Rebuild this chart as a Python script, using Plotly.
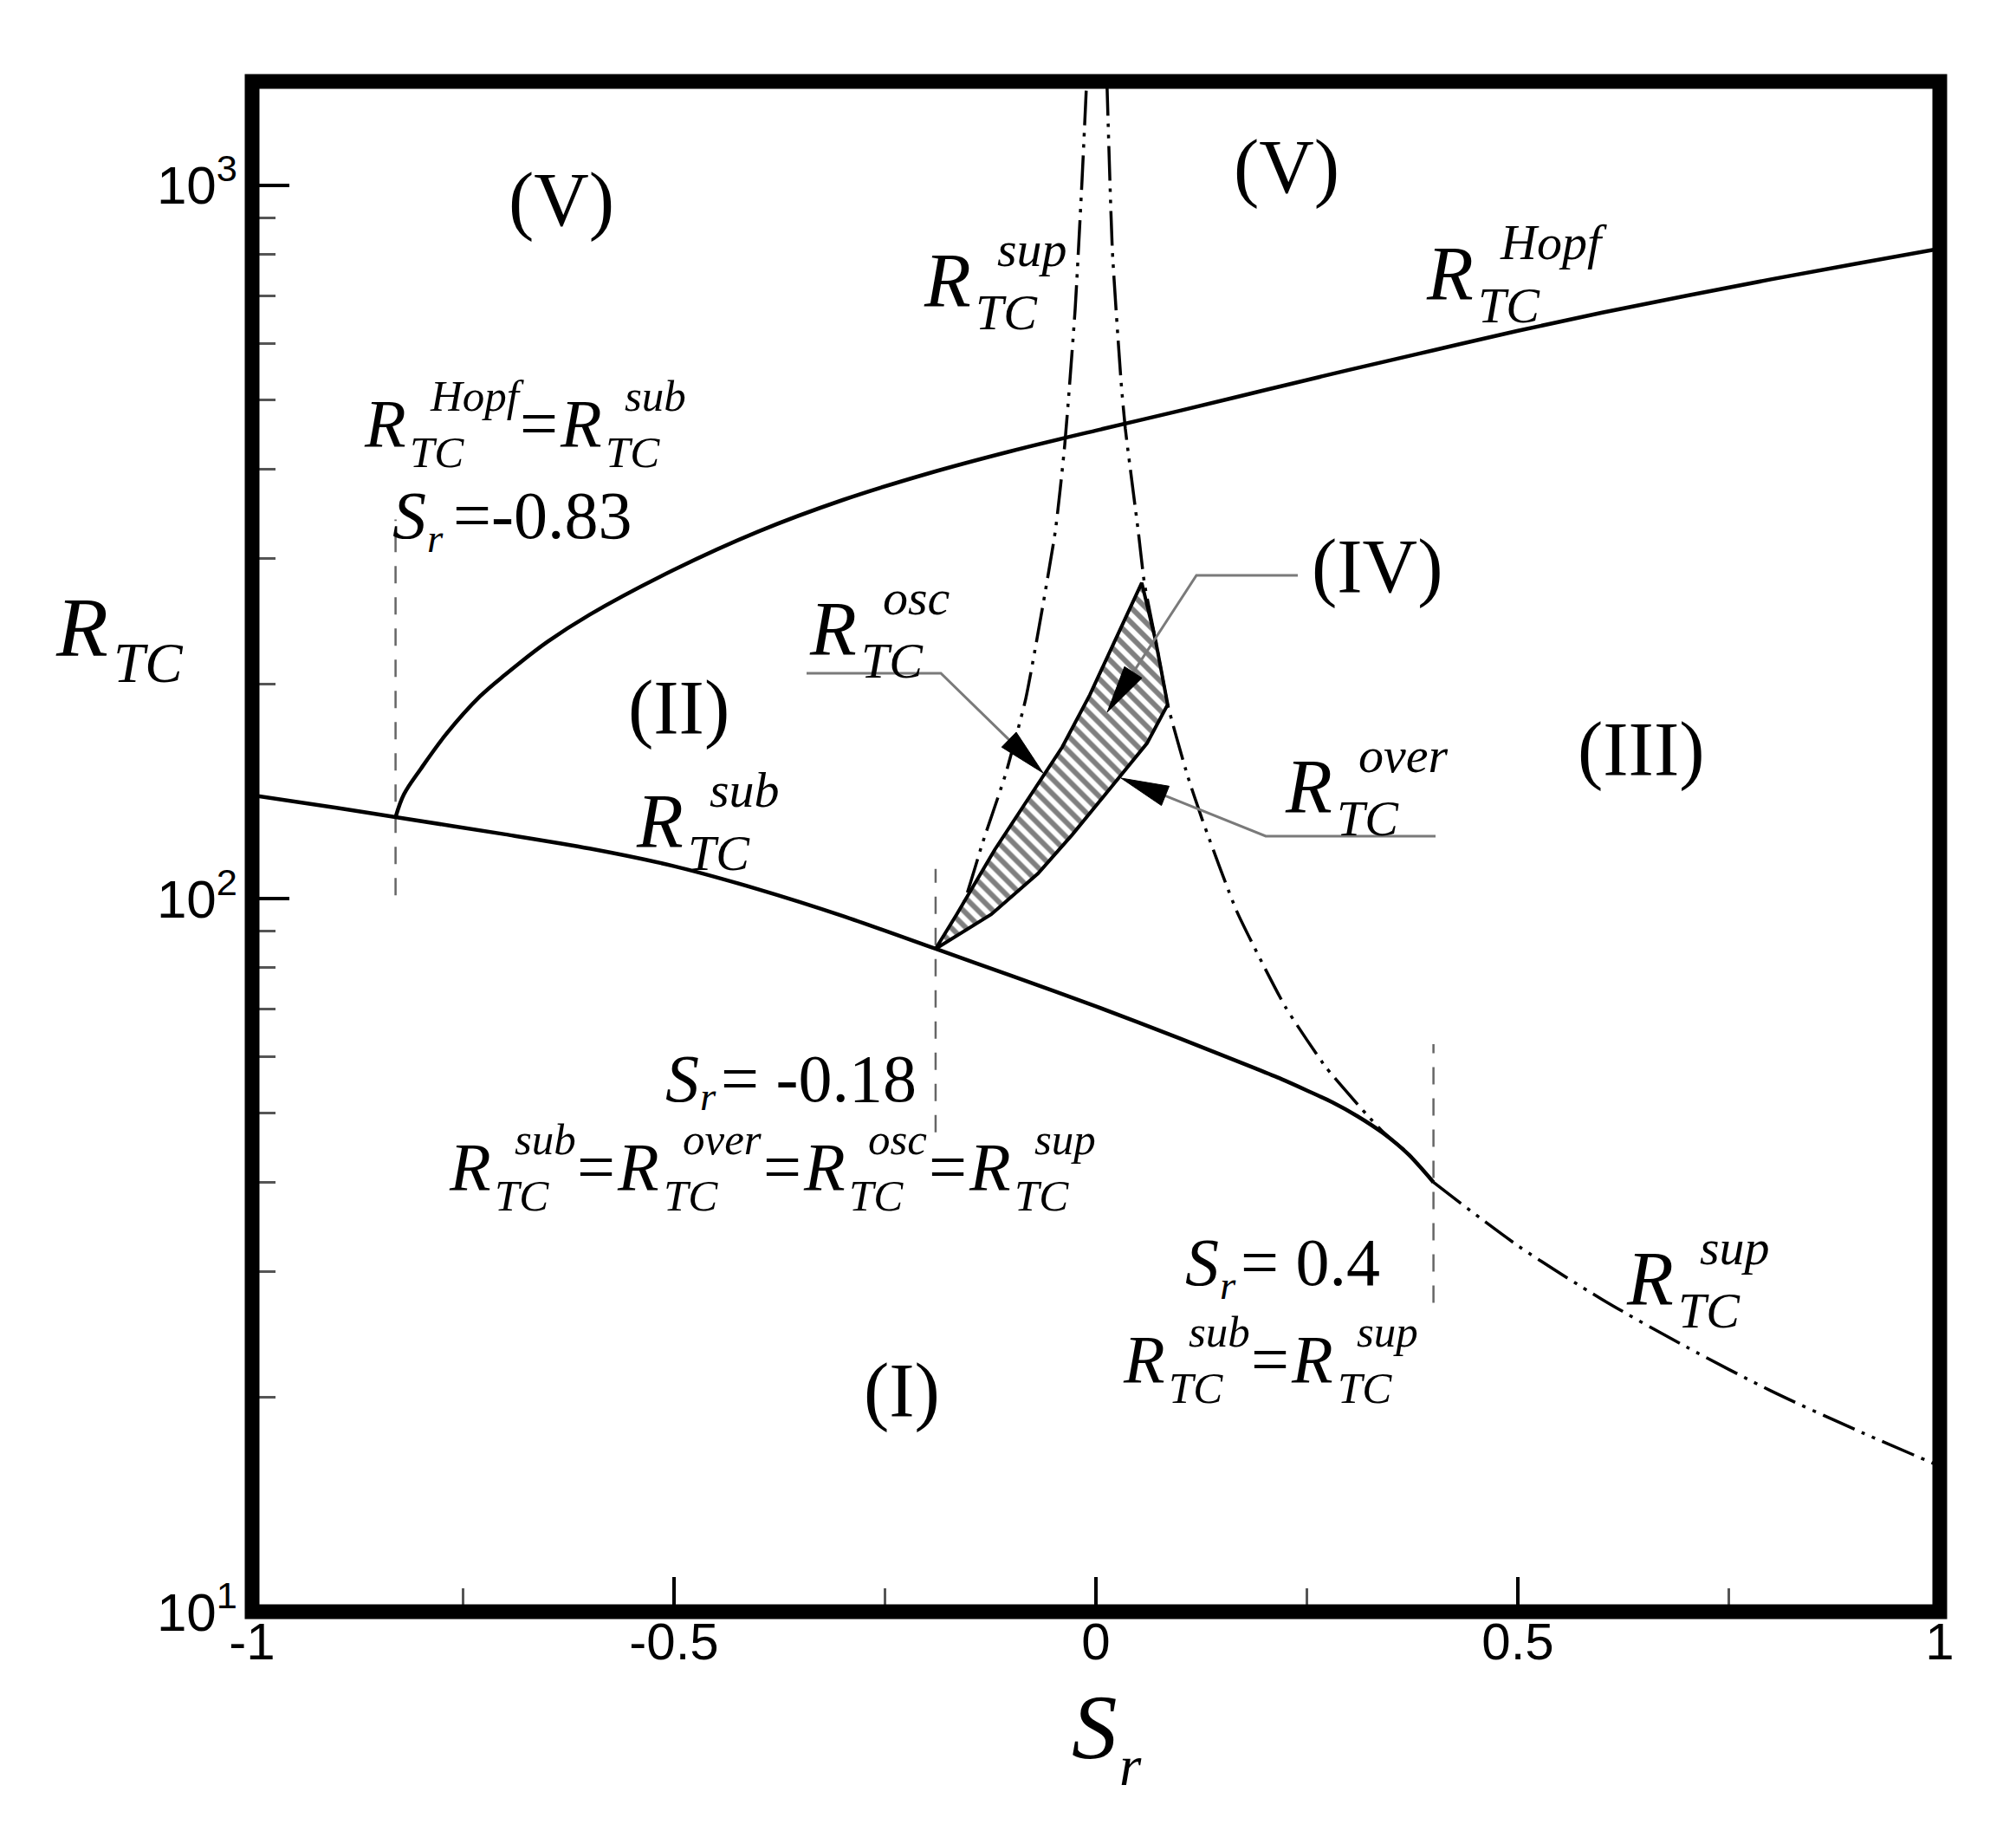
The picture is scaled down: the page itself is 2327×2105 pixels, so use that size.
import plotly.graph_objects as go

# ---------------- data ----------------
# R_TC^Hopf (solid upper curve)
hopf_sr = [-0.83, -0.82, -0.8, -0.77, -0.73, -0.7, -0.65, -0.6, -0.5, -0.4, -0.3, -0.2, -0.1, 0.0,
           0.1, 0.2, 0.3, 0.4, 0.5, 0.6, 0.7, 0.8, 0.9, 1.0]
hopf_r = [130, 140, 152, 170, 192, 206, 229, 250, 289, 327, 362, 394, 424, 453,
          483, 516, 551, 587, 625, 663, 700, 738, 776, 815]

# R_TC^sub (solid lower curve)
sub_sr = [-1.0, -0.9, -0.83, -0.7, -0.6, -0.5, -0.4, -0.3, -0.19, -0.1, 0.0, 0.1,
          0.19, 0.22, 0.25, 0.28, 0.31, 0.34, 0.37, 0.4]
sub_r = [139.6, 134, 130, 123, 117.5, 111, 103, 94.5, 85, 77.9, 70.6, 63.6,
         57.7, 55.8, 53.8, 51.8, 49.5, 46.9, 43.8, 40]

# R_TC^sup, lower branch (S_r >= 0.4)
sup_low_sr = [0.4, 0.5, 0.6, 0.7, 0.8, 0.9, 1.0]
sup_low_r = [40, 32.6, 27.4, 23.5, 20.4, 18.0, 16.0]

# R_TC^sup, left upper branch
sup_left_sr = [-0.19, -0.158, -0.134, -0.1066, -0.083, -0.0482, -0.037, -0.0246, -0.0164, -0.011]
sup_left_r = [85, 97.7, 120, 150, 191, 327, 432, 671, 1020, 1400]

# R_TC^sup, right upper branch
sup_right_sr = [0.013, 0.0195, 0.0297, 0.0348, 0.0502, 0.0574, 0.0707, 0.085, 0.1086, 0.126,
                0.167, 0.2244, 0.2725, 0.3207, 0.34, 0.37, 0.4]
sup_right_r = [1400, 809, 532, 456, 327, 277, 230, 187, 148.6, 129,
               95.9, 70.5, 58.0, 49.8, 47.1, 43.9, 40]

# R_TC^osc (left edge of region IV)
osc_sr = [-0.19, -0.165, -0.12, -0.08, -0.04, -0.0072, 0.0338, 0.0543]
osc_r = [85, 95, 117, 138, 163, 193, 245, 277]

# R_TC^over (lower right edge of region IV)
over_sr = [-0.19, -0.124, -0.0686, -0.0277, 0.0266, 0.0605, 0.085]
over_r = [85, 95, 108.4, 123, 147.4, 165, 187]

# upper right edge of region IV (along R_sup right branch)
iv_edge_sr = [0.0707]
iv_edge_r = [230]

# dashed vertical marker lines
marker_sr = [-0.83, -0.19, 0.4]
marker_lo = [101, 47, 27.1]
marker_hi = [340, 110, 62.5]

x_tickvals = [-1, -0.5, 0, 0.5, 1]
x_ticktext = ["-1", "-0.5", "0", "0.5", "1"]
x_minor = [-0.75, -0.25, 0.25, 0.75]
y_tickvals = [10, 100, 1000]
y_ticktext = ["10<sup>1</sup>", "10<sup>2</sup>", "10<sup>3</sup>"]
y_minor = [20, 30, 40, 50, 60, 70, 80, 90, 200, 300, 400, 500, 600, 700, 800, 900]

# ---------------- layout geometry ----------------
SERIF = "Liberation Serif, Times New Roman, serif"
SANS = "Liberation Sans Narrow, Liberation Sans, Arial, sans-serif"
W, H = 2327, 2105
PL, PR, PT, PB = 283, 2231, 86, 1852
XMIN, XMAX = -1.0, 1.0
YLOG0, YLOG1 = 1.0, 3.1455
DX, DY = -7, -3          # global shift of hand-placed labels / leaders (pixels)


def paper(px, py):
    return (px + DX - PL) / (PR - PL), (PB - (py + DY)) / (PB - PT)


def data_from_px(px, py):
    xp, yp = paper(px, py)
    return XMIN + xp * (XMAX - XMIN), 10 ** (YLOG0 + yp * (YLOG1 - YLOG0))


ITAL_W = {'T': 0.556, 'C': 0.667, 'H': 0.722, 'o': 0.5, 'p': 0.5, 'f': 0.278, 's': 0.389,
          'u': 0.5, 'b': 0.5, 'v': 0.444, 'e': 0.444, 'r': 0.389, 'c': 0.444, 'R': 0.611}
ROMAN_W = {'=': 0.564, ' ': 0.25, '-': 0.333, '.': 0.25}


def text_w(t, size, italic):
    table = ITAL_W if italic else ROMAN_W
    return sum(table.get(c, 0.5) for c in t) * size


annotations = []


def put(text, px, base, size, italic=False):
    xp, yp = paper(px, base - 0.3375 * size)
    annotations.append(dict(
        text=f"<i>{text}</i>" if italic else text,
        x=xp, y=yp, xref="paper", yref="paper", xanchor="left", yanchor="middle",
        showarrow=False, borderpad=0, font=dict(family=SERIF, size=size, color="black")))


def put_center(text, cx, cy, size):
    xp, yp = paper(cx, cy - 12)
    annotations.append(dict(
        text=text, x=xp, y=yp, xref="paper", yref="paper", xanchor="center", yanchor="middle",
        showarrow=False, borderpad=0, font=dict(family=SERIF, size=size, color="black")))


def r_expr(px, base, size, parts):
    s = round(size * 0.66)
    x = px
    for p in parts:
        if isinstance(p, tuple):
            sub, sup = p
            put("R", x, base, size, italic=True)
            put(sub, x + 0.68 * size, base + 0.31 * size, s, italic=True)
            adv = 0.68 * size + text_w(sub, s, True)
            if sup:
                put(sup, x + 0.97 * size, base - 0.52 * size, s, italic=True)
                adv = max(adv, 0.97 * size + text_w(sup, s, True))
            x += adv + 2
        else:
            put(p, x, base, size)
            x += text_w(p, size, False) + 2


def s_expr(px, base, size, rest, gap, rsize=None, rdrop=0.2, rdx=0.51):
    put("S", px, base, size, italic=True)
    put("r", px + rdx * size, base + rdrop * size, rsize or round(0.6 * size), italic=True)
    if rest:
        put(rest, px + gap, base, size)


# region labels
BIG = 88
put_center("(V)", 647, 237, BIG)
put_center("(V)", 1484, 200, BIG)
put_center("(II)", 782, 823, BIG)
put_center("(III)", 1893, 871, BIG)
put_center("(IV)", 1588, 660, BIG)
put_center("(I)", 1040, 1611, BIG)

# curve labels
r_expr(1064, 348, BIG, [("TC", "sup")])
r_expr(1644, 340, BIG, [("TC", "Hopf")])
r_expr(932, 750, BIG, [("TC", "osc")])
r_expr(1481, 932, BIG, [("TC", "over")])
r_expr(732, 972, BIG, [("TC", "sub")])
r_expr(1875, 1500, BIG, [("TC", "sup")])

# point annotations
SM = 78
r_expr(418, 510, SM, [("TC", "Hopf"), "=", ("TC", "sub")])
s_expr(451, 616, SM, "=-0.83", 70)
s_expr(766, 1266, SM, "= -0.18", 64, rdrop=0.13)
r_expr(516, 1368, SM, [("TC", "sub"), "=", ("TC", "over"), "=", ("TC", "osc"), "=", ("TC", "sup")])
s_expr(1366, 1478, SM, "= 0.4", 64)
r_expr(1294, 1590, SM, [("TC", "sub"), "=", ("TC", "sup")])

# axis titles
r_expr(62, 752, 98, [("TC", "")])
s_expr(1235, 2024, 105, "", 0, rsize=65, rdrop=0.29, rdx=0.52)

# ---------------- traces ----------------
fig = go.Figure()

for sr, lo, hi in zip(marker_sr, marker_lo, marker_hi):
    fig.add_trace(go.Scatter(x=[sr, sr], y=[lo, hi], mode="lines",
                             line=dict(color="#666666", width=2.5, dash="20px,16px"),
                             hoverinfo="skip"))

SOLID = dict(color="black", width=4.5)
DDOT = dict(color="black", width=3.5, dash="40px,9px,4px,9px,4px,9px")

fig.add_trace(go.Scatter(x=hopf_sr, y=hopf_r, mode="lines", line=dict(**SOLID, shape="spline", smoothing=1.0)))
fig.add_trace(go.Scatter(x=sub_sr, y=sub_r, mode="lines", line=dict(**SOLID, shape="spline", smoothing=0.8)))
fig.add_trace(go.Scatter(x=sup_low_sr, y=sup_low_r, mode="lines", line=dict(**DDOT, shape="spline", smoothing=0.8)))
fig.add_trace(go.Scatter(x=sup_left_sr, y=sup_left_r, mode="lines", line=dict(**DDOT, shape="spline", smoothing=0.5)))
fig.add_trace(go.Scatter(x=sup_right_sr, y=sup_right_r, mode="lines", line=dict(**DDOT, shape="spline", smoothing=0.5)))

# region IV (hatched)
iv_x = osc_sr + iv_edge_sr + over_sr[::-1]
iv_y = osc_r + iv_edge_r + over_r[::-1]
fig.add_trace(go.Scatter(x=iv_x, y=iv_y, mode="lines", fill="toself", fillcolor="white",
                         fillpattern=dict(shape="\\", fgcolor="black", bgcolor="white",
                                          size=12, solidity=0.5),
                         line=dict(color="black", width=4)))

# leader lines with arrowheads (pixel geometry of the annotations)
GRAY = "#7a7a7a"


def leader(pts, length=55, half=12):
    (cx, cy), (tx, ty) = pts[-2], pts[-1]
    d = ((tx - cx) ** 2 + (ty - cy) ** 2) ** 0.5
    ux, uy = (tx - cx) / d, (ty - cy) / d
    bx, by = tx - length * ux, ty - length * uy
    line_px = pts[:-1] + [(bx, by)]
    lx, ly = zip(*[data_from_px(*p) for p in line_px])
    fig.add_trace(go.Scatter(x=list(lx), y=list(ly), mode="lines",
                             line=dict(color=GRAY, width=3), hoverinfo="skip"))
    nx, ny = -uy, ux
    tri = [(tx, ty), (bx + half * nx, by + half * ny), (bx - half * nx, by - half * ny), (tx, ty)]
    ax, ay = zip(*[data_from_px(*p) for p in tri])
    fig.add_trace(go.Scatter(x=list(ax), y=list(ay), mode="lines", fill="toself",
                             fillcolor="black", line=dict(color="black", width=1),
                             hoverinfo="skip"))


leader([(930, 772), (1085, 772), (1203, 887)])
leader([(1656, 960), (1460, 960), (1293, 893)])
leader([(1497, 659), (1380, 659), (1277, 817)])

# ---------------- layout ----------------
frame = dict(type="rect", xref="paper", yref="paper", x0=0, y0=0, x1=1, y1=1,
             line=dict(color="black", width=17), layer="above")

fig.update_layout(
    width=W, height=H, autosize=False,
    margin=dict(l=PL, r=W - PR, t=PT, b=H - PB, pad=0),
    paper_bgcolor="white", plot_bgcolor="white", showlegend=False,
    annotations=annotations, shapes=[frame],
)
fig.update_xaxes(
    range=[XMIN, XMAX], tickmode="array", tickvals=x_tickvals, ticktext=x_ticktext,
    ticks="inside", ticklen=40, tickwidth=4, tickcolor="black",
    tickfont=dict(family=SANS, size=60, color="black"), ticklabelstandoff=-6,
    showgrid=False, zeroline=False, showline=False,
    minor=dict(tickmode="array", tickvals=x_minor, ticks="inside", ticklen=27,
               tickwidth=3, tickcolor="#555555", showgrid=False),
)
fig.update_yaxes(
    type="log", range=[YLOG0, YLOG1], tickmode="array", tickvals=y_tickvals, ticktext=y_ticktext,
    ticks="inside", ticklen=43, tickwidth=4, tickcolor="black",
    tickfont=dict(family=SANS, size=62, color="black"), ticklabelstandoff=16,
    showgrid=False, zeroline=False, showline=False,
    minor=dict(tickmode="array", tickvals=y_minor, ticks="inside", ticklen=27,
               tickwidth=3, tickcolor="#555555", showgrid=False),
)

fig.write_html("out.html")
